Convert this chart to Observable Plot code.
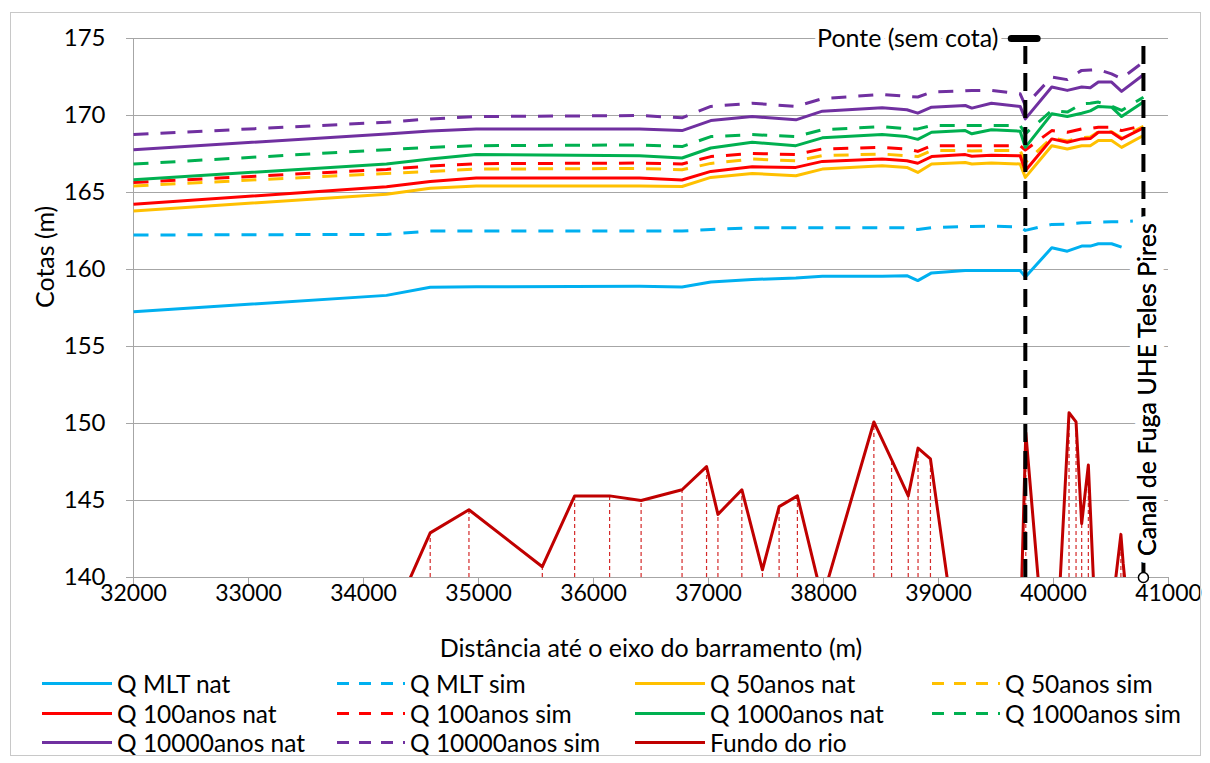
<!DOCTYPE html>
<html><head><meta charset="utf-8">
<script src="https://cdn.jsdelivr.net/npm/d3@7"></script>
<script src="https://cdn.jsdelivr.net/npm/@observablehq/plot@0.6"></script>
<style>
body{margin:0;background:#fff;font-family:Lato,"Open Sans",sans-serif;color:#000}
#wrap{position:relative;width:1210px;height:763px;overflow:hidden}
#frame{position:absolute;left:10px;top:12px;width:1189px;height:742px;border:1px solid #c8c8c8;pointer-events:none}
#chart{position:absolute;left:0;top:0}
#legend{position:absolute;left:0;top:0;width:1210px;height:763px;pointer-events:none}
.item{position:absolute;display:flex;align-items:center;font-size:24.5px;white-space:nowrap;transform:translateY(-50%)}
.item svg{margin-right:5px}
</style></head>
<body><div id="wrap"><div id="chart"></div><div id="legend"></div><div id="frame"></div></div>
<script>
// ---- data ----
const xTicks = [32000,33000,34000,35000,36000,37000,38000,39000,40000,41000];
const yTicks = [140,145,150,155,160,165,170,175];
const xTitle = "Distância até o eixo do barramento (m)";
const yTitle = "Cotas (m)";

const stations = [32000,34200,34580,34980,36400,36770,37020,37380,37760,37990,38510,38725,38820,38940,39233,39290,39460,39710,39755,39985,40120,40245,40320,40390,40505,40592,40690,40782];
const mltNat   = [157.25,158.32,158.85,158.88,158.91,158.86,159.19,159.35,159.45,159.56,159.56,159.6,159.28,159.78,159.93,159.93,159.93,159.93,159.52,161.41,161.19,161.52,161.52,161.67,161.67,161.45,null,null];
const mltSim   = [162.24,162.28,162.5,162.5,162.5,162.5,162.6,162.71,162.71,162.71,162.71,162.71,162.6,162.71,162.8,162.8,162.82,162.76,162.54,162.93,162.95,163.04,163.05,163.08,163.1,163.1,163.15,null];
const q50Nat   = [163.8,164.89,165.28,165.43,165.43,165.39,165.98,166.24,166.09,166.52,166.74,166.63,166.3,166.85,166.95,166.85,166.92,166.85,165.98,168.04,167.83,168.04,168.04,168.37,168.37,167.93,null,168.7];
const q50Sim   = [165.43,166.24,166.37,166.52,166.56,166.48,166.89,167.17,167.06,167.39,167.5,167.39,167.33,167.72,167.72,167.7,167.72,167.72,166.95,168.55,168.35,168.55,168.6,168.95,168.95,168.55,null,169.3];
const q100Nat  = [164.24,165.37,165.71,165.94,165.94,165.81,166.37,166.67,166.63,167.02,167.17,167.06,166.9,167.33,167.46,167.35,167.42,167.39,166.41,168.48,168.26,168.48,168.5,168.91,168.91,168.48,null,169.2];
const q100Sim  = [165.65,166.5,166.72,166.87,166.91,166.85,167.33,167.54,167.46,167.83,167.93,167.83,167.67,168.04,168.04,168.04,168.04,168.04,167.76,169.02,168.91,169.13,169.15,169.24,169.24,169.02,null,169.35];
const q1000Nat = [165.83,166.85,167.17,167.46,167.39,167.24,167.89,168.26,168.04,168.55,168.76,168.63,168.45,168.91,169.02,168.81,169.07,168.98,167.93,170.11,169.93,170.15,170.3,170.59,170.54,169.93,null,170.87];
const q1000Sim = [166.85,167.78,167.93,168.04,168.09,167.98,168.63,168.76,168.63,169.07,169.28,169.13,169.13,169.35,169.35,169.35,169.35,169.35,168.81,170.33,170.22,170.76,170.8,170.87,170.6,170.33,null,171.19];
const q10kNat  = [167.78,168.8,169.0,169.13,169.13,169.02,169.67,169.93,169.72,170.28,170.5,170.37,170.15,170.54,170.65,170.48,170.8,170.59,169.78,171.85,171.63,171.85,171.8,172.17,172.17,171.57,null,172.65];
const q10kSim  = [168.76,169.56,169.78,169.93,170.0,169.85,170.59,170.8,170.59,171.09,171.37,171.24,171.2,171.52,171.6,171.63,171.63,171.41,170.65,172.5,172.33,172.93,172.95,172.98,172.7,172.4,null,173.48];

const bedX = [34200,34580,34917,35555,35836,36140,36414,36770,36983,37082,37290,37469,37614,37773,37990,38438,38592,38737,38822,38930,39150,39710,39759,39985,40135,40196,40245,40303,40400,40586,40606,40700];
const bedY = [136.5,142.9,144.4,140.7,145.3,145.3,145.0,145.7,147.2,144.1,145.7,140.5,144.6,145.3,138.6,150.1,147.65,145.3,148.4,147.7,136,136,149.4,129.5,150.7,150.1,143.5,147.3,131,142.8,140.9,134];

const seriesNames = ["Q MLT nat","Q MLT sim","Q 50anos nat","Q 50anos sim","Q 100anos nat","Q 100anos sim","Q 1000anos nat","Q 1000anos sim","Q 10000anos nat","Q 10000anos sim","Fundo do rio"];
const seriesValues = [mltNat,mltSim,q50Nat,q50Sim,q100Nat,q100Sim,q1000Nat,q1000Sim,q10kNat,q10kSim];
const seriesColors = ["#00B0F0","#00B0F0","#FFC000","#FFC000","#FF0000","#FF0000","#00B050","#00B050","#7030A0","#7030A0","#C00000"];
const seriesDashed = [false,true,false,true,false,true,false,true,false,true,false];

const bridge = {x: 39755, x1: 39637, x2: 39862, top: 175, bottom: 140, label: "Ponte (sem cota)"};
const canal  = {x: 40782, top: 175, bottom: 140, labelY: 152.2, label: "Canal de Fuga UHE Teles Pires"};

// ---- build ----
const DASH = "15,12";
const grid = "#a6a6a6";
const FONT = "Lato, 'Open Sans', sans-serif";
const FS = 25;
const marks = [
  Plot.gridY(yTicks, {stroke: grid, strokeOpacity: 1, strokeWidth: 1}),
  Plot.ruleX([xTicks[0]], {stroke: grid, strokeWidth: 1}),
  Plot.axisY({ticks: yTicks, tickSize: 7, tickPadding: 21, stroke: grid, fill: "#000", fontSize: 24, label: null}),
  Plot.axisX({ticks: xTicks, tickSize: 7, tickPadding: 0, stroke: grid, fill: "#000", fontSize: 23, tickFormat: d => String(d), label: null}),
  Plot.text([xTitle], {frameAnchor: "bottom", dy: 79, text: d => d, fontSize: FS, fill: "#000"}),
  Plot.text([yTitle], {frameAnchor: "left", dx: -88, rotate: -90, text: d => d, fontSize: FS, fill: "#000"}),
];
seriesValues.forEach((vals, i) => {
  const data = stations.map((x, j) => ({x, y: vals[j]})).filter(d => d.y != null);
  marks.push(Plot.line(data, {x: "x", y: "y", stroke: seriesColors[i], strokeWidth: 3,
    strokeDasharray: seriesDashed[i] ? DASH : null, strokeLinecap: "butt", clip: true}));
});
const bed = bedX.map((x, j) => ({x, y: bedY[j]}));
marks.push(Plot.ruleX(bed.filter(d => d.y > 140), {x: "x", y1: 140, y2: "y", stroke: "#D42A2A", strokeWidth: 1.2, strokeDasharray: "4,3"}));
marks.push(Plot.line(bed, {x: "x", y: "y", stroke: "#C00000", strokeWidth: 3, clip: true}));
// bridge
marks.push(Plot.text([bridge], {x: "x", y: "top", text: "label", textAnchor: "end", dx: -27, fontSize: FS, fill: "#000", stroke: "#fff", strokeWidth: 8}));
marks.push(Plot.ruleX([bridge], {x: "x", y1: "bottom", y2: "top", stroke: "#000", strokeWidth: 4, strokeDasharray: "18,9"}));
marks.push(Plot.ruleY([bridge], {y: "top", x1: "x1", x2: "x2", stroke: "#000", strokeWidth: 7, strokeLinecap: "round"}));
// canal
marks.push(Plot.ruleX([canal], {x: "x", y1: "bottom", y2: "top", stroke: "#000", strokeWidth: 4, strokeDasharray: "18,9"}));
marks.push(Plot.text([canal], {x: "x", y: "labelY", text: "label", rotate: -90, dx: 5, fontSize: FS, fill: "#000", stroke: "#fff", strokeWidth: 16}));
marks.push(Plot.text([canal], {x: "x", y: "labelY", text: "label", rotate: -90, dx: 5, fontSize: FS, fill: "#000"}));
marks.push(Plot.dot([canal], {x: "x", y: "bottom", r: 5, fill: "#fff", stroke: "#000", strokeWidth: 1.5}));

const chart = Plot.plot({
  width: 1210, height: 665,
  marginLeft: 133, marginRight: 42, marginTop: 38, marginBottom: 88,
  style: {fontFamily: FONT, fontSize: FS + "px", color: "#000", background: "transparent"},
  x: {domain: [32000, 41000]},
  y: {domain: [140, 175]},
  marks
});
document.getElementById("chart").appendChild(chart);

// legend
const legCols = [42, 335, 635, 930];
const legRows = [683, 713, 742];
const leg = document.getElementById("legend");
seriesNames.forEach((name, i) => {
  const div = document.createElement("div");
  div.className = "item";
  div.style.left = legCols[i % 4] + "px";
  div.style.top = legRows[Math.floor(i / 4)] + "px";
  const dash = seriesDashed[i] ? ` stroke-dasharray="12,10" stroke-dashoffset="-2"` : "";
  div.innerHTML = `<svg width="70" height="6"><line x1="0" x2="70" y1="3" y2="3" stroke="${seriesColors[i]}" stroke-width="3"${dash}/></svg><span>${name}</span>`;
  leg.appendChild(div);
});
</script></body></html>
